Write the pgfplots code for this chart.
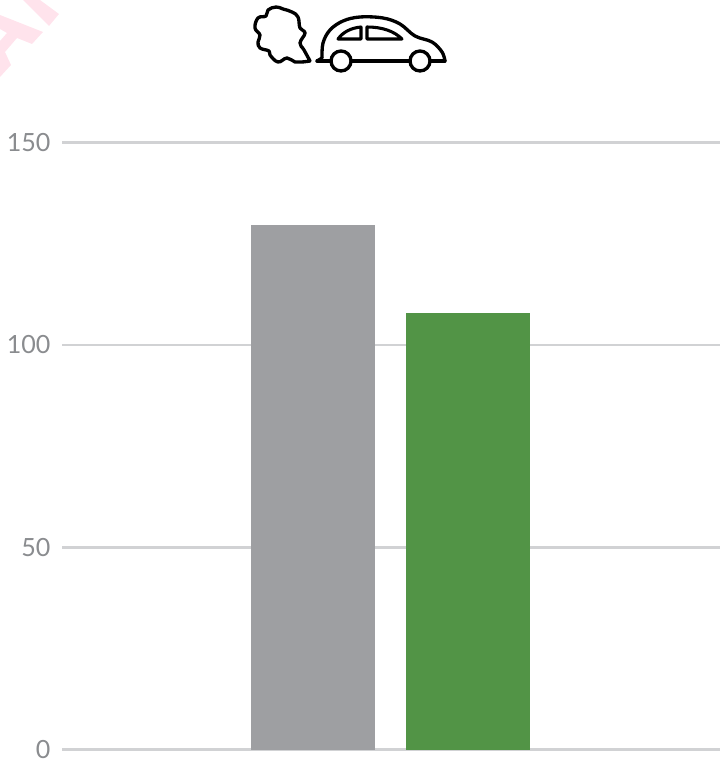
\documentclass[border=0pt]{standalone}
\usepackage{pgfplots}
\pgfplotsset{compat=1.18}
\usepackage{fontspec}
\setmainfont{Lato}
\definecolor{gridc}{HTML}{D1D2D4}
\definecolor{barg}{HTML}{9E9FA2}
\definecolor{barv}{HTML}{529446}
\definecolor{tickc}{HTML}{8A8C8F}
\definecolor{wm}{HTML}{FFE3EC}
\begin{document}
\begin{tikzpicture}
\begin{scope}[x=0.75pt,y=-0.75pt]
\path[use as bounding box] (0,0) rectangle (727,762);
% watermark fragment
\fill[wm] (0,15) -- (43,32) -- (32,44) -- (17,38) -- (5,52) -- (11,65) -- (0,77) -- (0,41) -- (7,33) -- (0,29) -- cycle;
\fill[wm] (23,0) -- (40,0) -- (59,14) -- (49,26) -- cycle;
% smoke
\draw[black,line width=2.5pt,line join=round,line cap=round]
 plot[smooth,tension=0.7] coordinates {(310,61) (302,62) (295,62) (287,58) (278,62) (270,55) (269,51) (260,48) (258,42) (260,35) (255,28) (258,18) (266,16) (268,10) (276,7) (283,9) (292,12) (298,17) (300,28) (305,33) (300,43) (304,50) (310,61)};
% car body
\draw[black,line width=2.5pt,line join=round,line cap=round]
 plot[smooth,tension=0.6] coordinates {(322,58) (323,43) (330,30) (343,21) (360,17) (383,18) (400,24) (415,36) (432,42) (442,52) (445,61)};
\draw[black,line width=2.5pt,line cap=round] (317,61) -- (322,58);
\draw[black,line width=2.5pt,line cap=round] (317,61) -- (445,61);
\draw[black,line width=2.5pt,fill=white] (341,61) circle[radius=10];
\draw[black,line width=2.5pt,fill=white] (420,61) circle[radius=10];
\draw[black,line width=2.3pt,line join=round] (338,39) .. controls (343,32) and (351,28) .. (361,27) -- (361,39) -- cycle;
\draw[black,line width=2.3pt,line join=round] (367,39) -- (367,27) .. controls (382,27) and (394,31) .. (402,39) -- cycle;
\end{scope}
\begin{axis}[
  at={(46.5pt,-562.125pt)},anchor=south west,
  width=493.5pt,height=455.1pt,
  scale only axis,
  xmin=-1.619,xmax=2.626,
  ymin=0,ymax=150,
  axis x line=none,
  axis y line*=left,
  y axis line style={draw=none},
  clip=false,
  ytick={0,50,100,150},
  major tick length=0pt,
  ymajorgrids,
  major grid style={gridc,line width=2.2pt},
  ybar,bar width=0.8,bar shift=0pt,
  /pgf/number format/assume math mode=true,
  yticklabel style={font=\fontsize{18.8pt}{22pt}\selectfont,text=tickc,inner sep=0pt,xshift=-8.5pt,yshift=0pt},
]
\addplot[fill=barg,draw=none] coordinates {(0,129.7)};
\addplot[fill=barv,draw=none] coordinates {(1,107.9)};
\end{axis}
\end{tikzpicture}
\end{document}
